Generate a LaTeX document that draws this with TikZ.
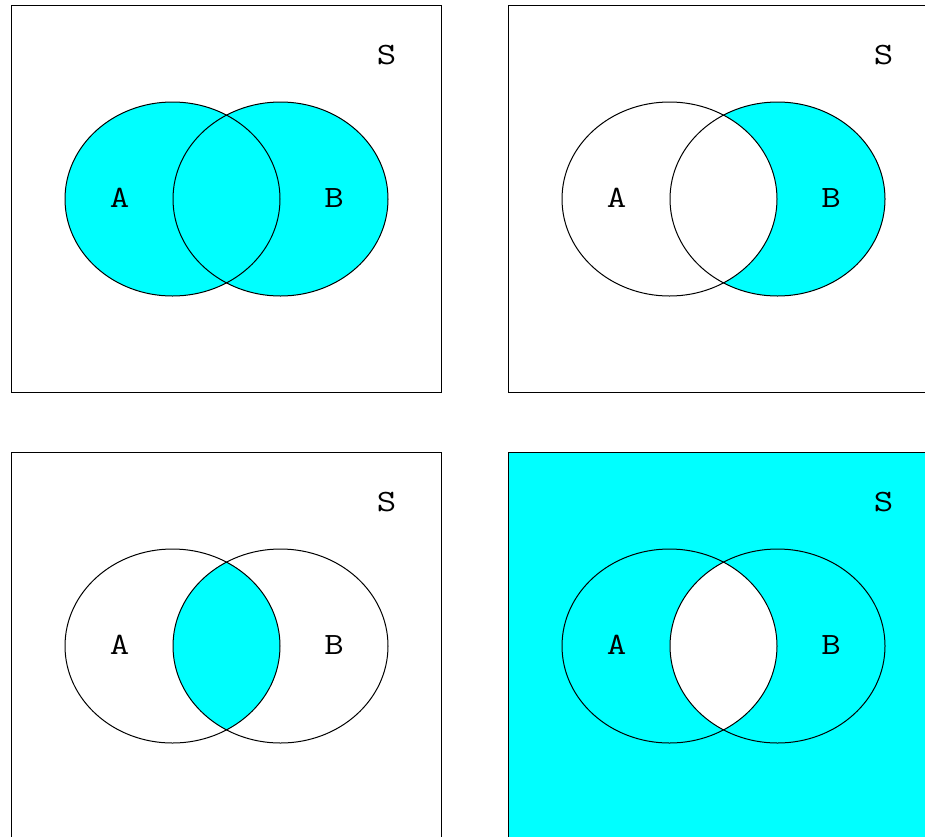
\documentclass[tikz,border=0pt]{standalone}
\usepackage{graphicx}
\definecolor{cyanfill}{RGB}{0,255,255}
\tikzset{
  lbl/.style={font=\fontsize{31}{34}\selectfont\ttfamily, inner sep=0pt, anchor=base},
  panelbox/.style={draw=black, line width=1pt},
  setline/.style={draw=black, line width=1pt},
}
\newcommand{\wide}[1]{\scalebox{1.22}[1]{#1}}
\newcommand{\setA}{(161.5,194) ellipse [x radius=107.5, y radius=97]}
\newcommand{\setB}{(269.5,194) ellipse [x radius=107.5, y radius=97]}
\newcommand{\panelR}{(0,0) rectangle (430,387)}
\newcommand{\panelLabels}[1]{%
  \node[lbl] (#1S) at (375.7,59.5) {\wide{S}};
  \node[lbl] (#1A) at (108.7,202) {\wide{A}};
  \node[lbl] (#1B) at (323,202) {\wide{B}};
}
\begin{document}
\begin{tikzpicture}[x=1pt,y=-1pt]
\useasboundingbox (0,0) rectangle (925,836);
\clip (0,0) rectangle (925,836);
\fill[white] (0,0) rectangle (925,836);
% Panel 1: A union B
\begin{scope}[shift={(11,5)}]
  \fill[cyanfill] \setA;
  \fill[cyanfill] \setB;
  \draw[panelbox] \panelR;
  \draw[setline] \setA;
  \draw[setline] \setB;
  \panelLabels{p1}
\end{scope}
% Panel 2: B minus A
\begin{scope}[shift={(508,5)}]
  \fill[cyanfill] \setB;
  \fill[white] \setA;
  \draw[panelbox] \panelR;
  \draw[setline] \setA;
  \draw[setline] \setB;
  \panelLabels{p2}
\end{scope}
% Panel 3: A intersect B
\begin{scope}[shift={(11,452)}]
  \begin{scope}
    \clip \setA;
    \fill[cyanfill] \setB;
  \end{scope}
  \draw[panelbox] \panelR;
  \draw[setline] \setA;
  \draw[setline] \setB;
  \panelLabels{p3}
\end{scope}
% Panel 4: complement of A intersect B
\begin{scope}[shift={(508,452)}]
  \fill[cyanfill] \panelR;
  \begin{scope}
    \clip \setA;
    \fill[white] \setB;
  \end{scope}
  \draw[panelbox] \panelR;
  \draw[setline] \setA;
  \draw[setline] \setB;
  \panelLabels{p4}
\end{scope}
\end{tikzpicture}
\end{document}
